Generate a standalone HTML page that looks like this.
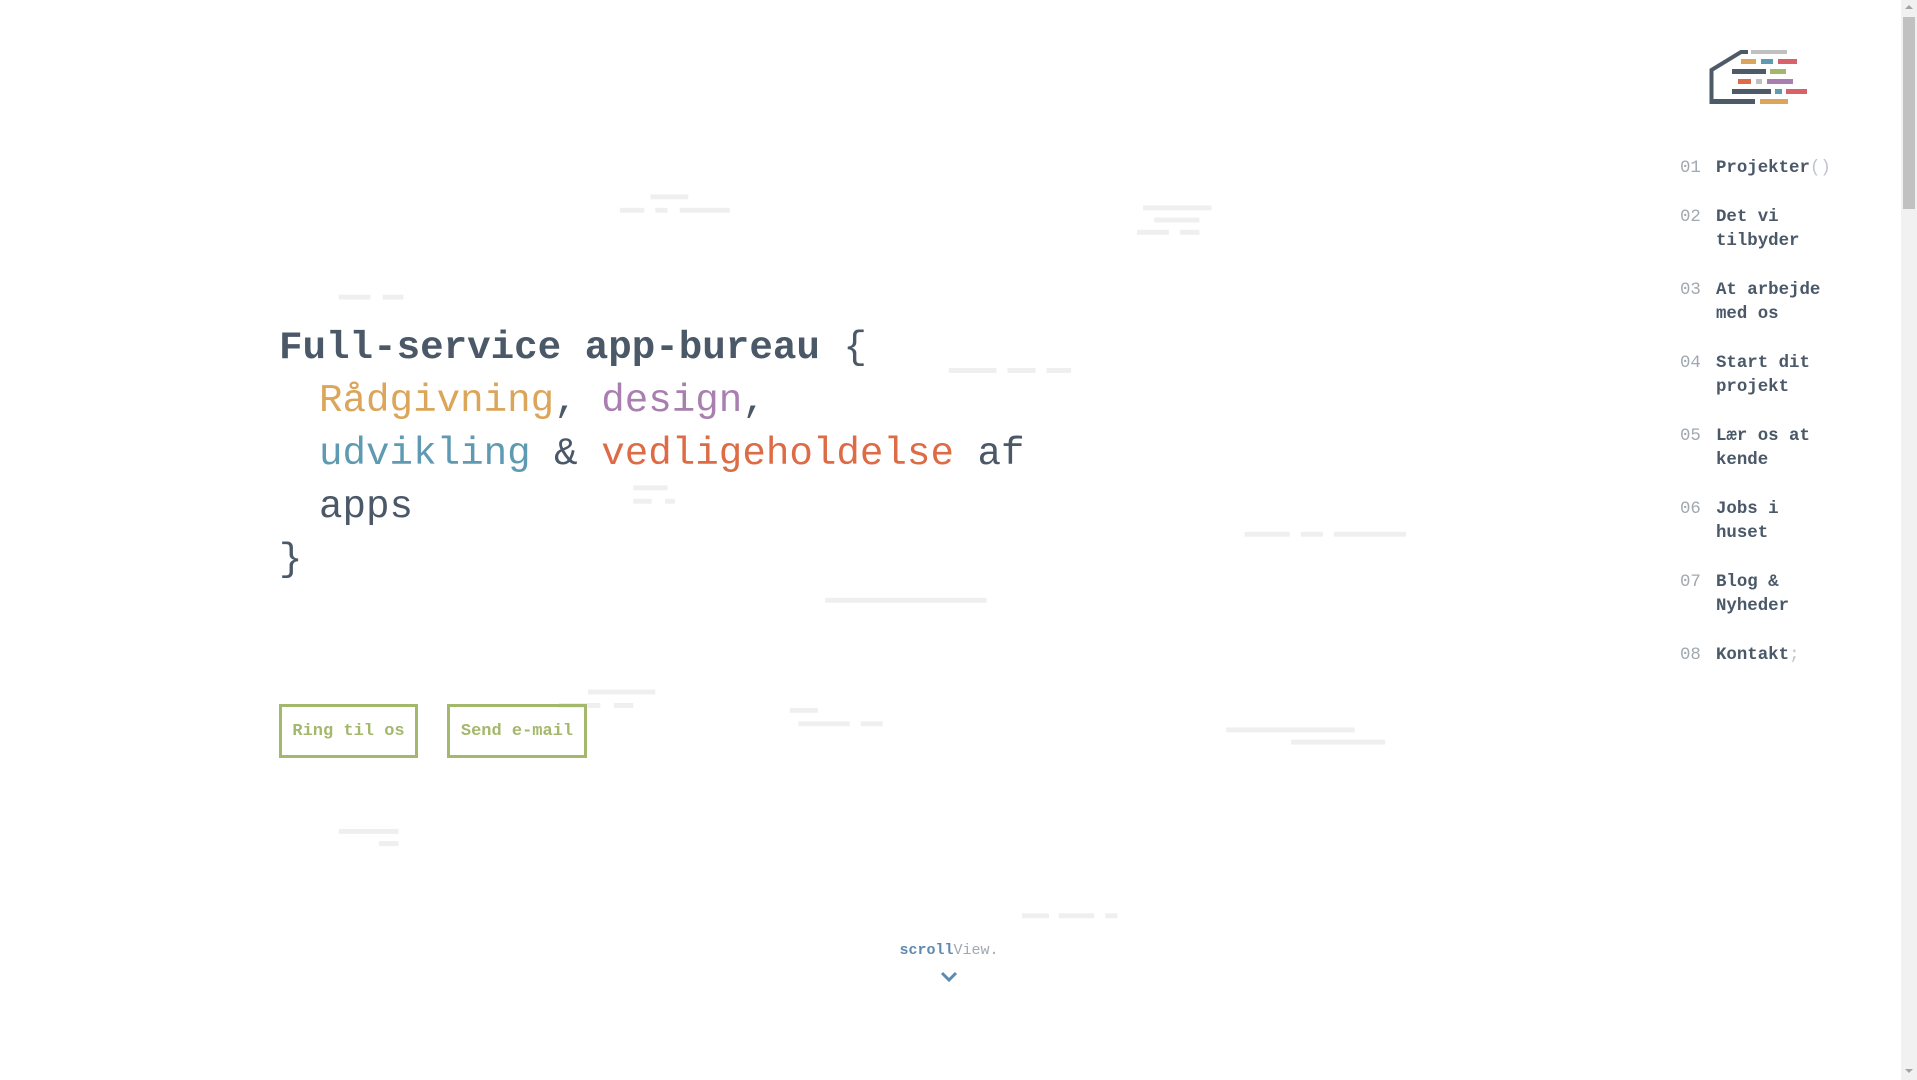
<!DOCTYPE html>
<html><head><meta charset="utf-8"><style>
*{margin:0;padding:0;box-sizing:border-box}
body{width:1917px;height:1080px;overflow:hidden;background:#fff;position:relative;font-family:"Liberation Mono",monospace;color:#4a5868}
#deco{position:absolute;left:0;top:0;width:1568px;height:883px;transform:scale(1.2226);transform-origin:0 0}
#deco div{position:absolute;height:4px;background:#efefef}
.h{position:absolute;left:279px;font-size:39.2px;line-height:53px;white-space:pre}
.in{display:inline-block;width:40px}
.btn{position:absolute;top:704px;height:54px;border:3px solid #a3b86c;color:#a3b86c;font-size:17px;font-weight:bold;display:flex;align-items:center;justify-content:center}
.nav{position:absolute;left:1680px;font-size:17.4px;line-height:24px}
.nav .n{position:absolute;left:0;color:#a0a8b0}
.nav .t{position:absolute;left:36px;font-weight:bold;white-space:pre;color:#4a5868}
.g{color:#c0c4c8;font-weight:normal}
.lg{position:absolute}
</style></head><body>
<div id="deco">
<div style="left:507px;top:170px;width:20px"></div><div style="left:536px;top:170px;width:10px"></div><div style="left:556px;top:170px;width:41px"></div><div style="left:532px;top:159px;width:31px"></div>
<div style="left:935px;top:168px;width:56px"></div><div style="left:944px;top:178px;width:37px"></div><div style="left:930px;top:188px;width:26px"></div><div style="left:965px;top:188px;width:16px"></div>
<div style="left:277px;top:241px;width:26px"></div><div style="left:313px;top:241px;width:17px"></div>
<div style="left:776px;top:301px;width:39px"></div><div style="left:824px;top:301px;width:23px"></div><div style="left:856px;top:301px;width:20px"></div>
<div style="left:518px;top:397px;width:28px"></div><div style="left:518px;top:408px;width:15px"></div><div style="left:544px;top:408px;width:8px"></div>
<div style="left:1018px;top:435px;width:37px"></div><div style="left:1064px;top:435px;width:18px"></div><div style="left:1091px;top:435px;width:59px"></div>
<div style="left:675px;top:489px;width:132px"></div>
<div style="left:481px;top:564px;width:55px"></div><div style="left:457px;top:575px;width:34px"></div><div style="left:502px;top:575px;width:16px"></div>
<div style="left:646px;top:579px;width:23px"></div><div style="left:653px;top:590px;width:42px"></div><div style="left:704px;top:590px;width:18px"></div>
<div style="left:1003px;top:595px;width:105px"></div><div style="left:1056px;top:605px;width:77px"></div>
<div style="left:277px;top:678px;width:49px"></div><div style="left:310px;top:688px;width:16px"></div>
<div style="left:836px;top:747px;width:22px"></div><div style="left:866px;top:747px;width:29px"></div><div style="left:904px;top:747px;width:10px"></div>
</div>

<div class="h" style="top:321px;font-weight:bold">Full-service app-bureau <span style="font-weight:normal">{</span></div>
<div class="h" style="top:374px"><span class="in"></span><span style="color:#dba55a">Rådgivning</span>, <span style="color:#a97fb0">design</span>,</div>
<div class="h" style="top:427px"><span class="in"></span><span style="color:#5f9ab3">udvikling</span> &amp; <span style="color:#dd6b46">vedligeholdelse</span> af</div>
<div class="h" style="top:480px"><span class="in"></span>apps</div>
<div class="h" style="top:533px">}</div>

<div class="btn" style="left:279px;width:139px">Ring til os</div>
<div class="btn" style="left:447px;width:140px">Send e-mail</div>

<svg style="position:absolute;left:0;top:0" width="1917" height="1080">
<polyline points="1711.5,104 1711.5,70 1741,52 1748,52" fill="none" stroke="#4d5a68" stroke-width="4"/>
</svg>
<div class="lg" style="left:1710px;top:99px;width:45px;height:5px;background:#4d5a68"></div>
<div class="lg" style="left:1751px;top:50px;width:36px;height:4px;background:#c0c0c0"></div>
<div class="lg" style="left:1741px;top:59px;width:15px;height:5px;background:#dba55a"></div>
<div class="lg" style="left:1761px;top:59px;width:12px;height:5px;background:#5f9ab3"></div>
<div class="lg" style="left:1778px;top:59px;width:19px;height:5px;background:#d9626a"></div>
<div class="lg" style="left:1732px;top:69px;width:34px;height:5px;background:#4d5a68"></div>
<div class="lg" style="left:1770px;top:69px;width:16px;height:5px;background:#a3b86c"></div>
<div class="lg" style="left:1738px;top:79px;width:13px;height:5px;background:#dd6b46"></div>
<div class="lg" style="left:1756px;top:79px;width:6px;height:5px;background:#c0c0c0"></div>
<div class="lg" style="left:1767px;top:79px;width:26px;height:5px;background:#a97fb0"></div>
<div class="lg" style="left:1732px;top:89px;width:39px;height:5px;background:#4d5a68"></div>
<div class="lg" style="left:1775px;top:89px;width:7px;height:5px;background:#5f9ab3"></div>
<div class="lg" style="left:1786px;top:89px;width:21px;height:5px;background:#d9626a"></div>
<div class="lg" style="left:1760px;top:99px;width:28px;height:5px;background:#dba55a"></div>

<div class="nav" style="top:157px"><span class="n">01</span><span class="t">Projekter<span class="g">()</span></span></div>
<div class="nav" style="top:206px"><span class="n">02</span><span class="t">Det vi
tilbyder</span></div>
<div class="nav" style="top:279px"><span class="n">03</span><span class="t">At arbejde
med os</span></div>
<div class="nav" style="top:352px"><span class="n">04</span><span class="t">Start dit
projekt</span></div>
<div class="nav" style="top:425px"><span class="n">05</span><span class="t">Lær os at
kende</span></div>
<div class="nav" style="top:498px"><span class="n">06</span><span class="t">Jobs i
huset</span></div>
<div class="nav" style="top:571px"><span class="n">07</span><span class="t">Blog &amp;
Nyheder</span></div>
<div class="nav" style="top:644px"><span class="n">08</span><span class="t">Kontakt<span class="g">;</span></span></div>

<div style="position:absolute;left:849px;width:200px;top:941px;text-align:center;font-size:15px;line-height:20px"><b style="color:#5f8ab0">scroll</b><span style="color:#a0a8b0">View.</span></div>
<svg style="position:absolute;left:939px;top:970px" width="20" height="14"><polyline points="3,3 10,10 17,3" fill="none" stroke="#5f8ab0" stroke-width="3"/></svg>

<div style="position:absolute;left:1901px;top:0;width:16px;height:1080px;background:#f1f1f1"></div>
<div style="position:absolute;left:1903px;top:17px;width:12px;height:192px;background:#c1c1c1"></div>
<div style="position:absolute;left:1905px;top:5px;width:0;height:0;border-left:4px solid transparent;border-right:4px solid transparent;border-bottom:4px solid #a3a3a3"></div>
<div style="position:absolute;left:1905px;top:1069px;width:0;height:0;border-left:4px solid transparent;border-right:4px solid transparent;border-top:4px solid #a3a3a3"></div>
</body></html>
